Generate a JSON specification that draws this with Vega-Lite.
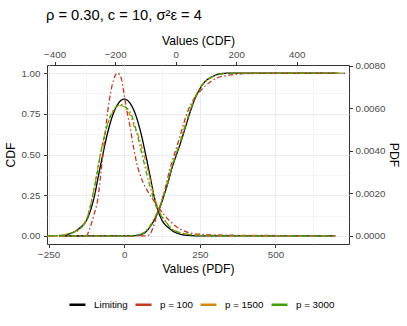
{
  "$schema": "https://vega.github.io/schema/vega-lite/v6.json",
  "width": 302,
  "height": 179,
  "autosize": {"type": "none"},
  "padding": {"left": 47, "top": 65, "right": 58, "bottom": 82},
  "title": {"text": "ρ = 0.30, c = 10, σ²ε = 4", "anchor": "start", "frame": "group", "fontSize": 14.7, "fontWeight": "normal", "color": "#000000", "offset": 12, "dx": -1},
  "datasets": {
    "pdf": [
      {"s": "Limiting", "x": -214, "y": 0.00001},
      {"s": "Limiting", "x": -180, "y": 0.0000995},
      {"s": "Limiting", "x": -152, "y": 0.000314},
      {"s": "Limiting", "x": -118, "y": 0.000941},
      {"s": "Limiting", "x": -98, "y": 0.001905},
      {"s": "Limiting", "x": -85, "y": 0.002846},
      {"s": "Limiting", "x": -71, "y": 0.00381},
      {"s": "Limiting", "x": -56, "y": 0.004781},
      {"s": "Limiting", "x": -36, "y": 0.005753},
      {"s": "Limiting", "x": -18, "y": 0.006258},
      {"s": "Limiting", "x": -9, "y": 0.006388},
      {"s": "Limiting", "x": 0, "y": 0.006434},
      {"s": "Limiting", "x": 9, "y": 0.006388},
      {"s": "Limiting", "x": 18, "y": 0.006258},
      {"s": "Limiting", "x": 36, "y": 0.005753},
      {"s": "Limiting", "x": 56, "y": 0.004781},
      {"s": "Limiting", "x": 71, "y": 0.00381},
      {"s": "Limiting", "x": 85, "y": 0.002846},
      {"s": "Limiting", "x": 98, "y": 0.001905},
      {"s": "Limiting", "x": 118, "y": 0.000941},
      {"s": "Limiting", "x": 152, "y": 0.000314},
      {"s": "Limiting", "x": 180, "y": 0.0000995},
      {"s": "Limiting", "x": 210, "y": 0.000023},
      {"s": "Limiting", "x": 250, "y": 0},
      {"s": "Limiting", "x": 697, "y": 0},
      {"s": "p = 100", "x": -240, "y": 0},
      {"s": "p = 100", "x": -125, "y": 0},
      {"s": "p = 100", "x": -115, "y": 0.000306},
      {"s": "p = 100", "x": -100, "y": 0.000995},
      {"s": "p = 100", "x": -87, "y": 0.00176},
      {"s": "p = 100", "x": -75, "y": 0.003213},
      {"s": "p = 100", "x": -65, "y": 0.004514},
      {"s": "p = 100", "x": -55, "y": 0.005814},
      {"s": "p = 100", "x": -45, "y": 0.006732},
      {"s": "p = 100", "x": -35, "y": 0.007344},
      {"s": "p = 100", "x": -22, "y": 0.00765},
      {"s": "p = 100", "x": -10, "y": 0.00742},
      {"s": "p = 100", "x": -3, "y": 0.006885},
      {"s": "p = 100", "x": 8, "y": 0.005936},
      {"s": "p = 100", "x": 19, "y": 0.005156},
      {"s": "p = 100", "x": 30, "y": 0.004215},
      {"s": "p = 100", "x": 41, "y": 0.003435},
      {"s": "p = 100", "x": 58, "y": 0.002655},
      {"s": "p = 100", "x": 80, "y": 0.002035},
      {"s": "p = 100", "x": 102, "y": 0.001561},
      {"s": "p = 100", "x": 135, "y": 0.000941},
      {"s": "p = 100", "x": 169, "y": 0.000467},
      {"s": "p = 100", "x": 213, "y": 0.000153},
      {"s": "p = 100", "x": 250, "y": 0.0000765},
      {"s": "p = 100", "x": 300, "y": 0.0000459},
      {"s": "p = 100", "x": 400, "y": 0.000023},
      {"s": "p = 100", "x": 500, "y": 0.0000153},
      {"s": "p = 100", "x": 560, "y": 0.0000077},
      {"s": "p = 1500", "x": -240, "y": 0},
      {"s": "p = 1500", "x": -200, "y": 0.0000459},
      {"s": "p = 1500", "x": -170, "y": 0.000168},
      {"s": "p = 1500", "x": -147, "y": 0.000344},
      {"s": "p = 1500", "x": -120, "y": 0.000995},
      {"s": "p = 1500", "x": -104, "y": 0.001913},
      {"s": "p = 1500", "x": -91, "y": 0.002907},
      {"s": "p = 1500", "x": -79, "y": 0.003825},
      {"s": "p = 1500", "x": -64, "y": 0.00482},
      {"s": "p = 1500", "x": -44, "y": 0.005661},
      {"s": "p = 1500", "x": -25, "y": 0.006044},
      {"s": "p = 1500", "x": -9, "y": 0.00612},
      {"s": "p = 1500", "x": 5, "y": 0.005967},
      {"s": "p = 1500", "x": 20, "y": 0.005661},
      {"s": "p = 1500", "x": 35, "y": 0.005049},
      {"s": "p = 1500", "x": 50, "y": 0.00459},
      {"s": "p = 1500", "x": 62, "y": 0.003978},
      {"s": "p = 1500", "x": 72, "y": 0.003443},
      {"s": "p = 1500", "x": 84, "y": 0.002754},
      {"s": "p = 1500", "x": 98, "y": 0.001913},
      {"s": "p = 1500", "x": 112, "y": 0.001301},
      {"s": "p = 1500", "x": 125, "y": 0.000918},
      {"s": "p = 1500", "x": 142, "y": 0.000574},
      {"s": "p = 1500", "x": 160, "y": 0.000306},
      {"s": "p = 1500", "x": 185, "y": 0.000153},
      {"s": "p = 1500", "x": 213, "y": 0.0000765},
      {"s": "p = 1500", "x": 260, "y": 0.000023},
      {"s": "p = 1500", "x": 300, "y": 0},
      {"s": "p = 1500", "x": 700, "y": 0},
      {"s": "p = 3000", "x": -255, "y": 0},
      {"s": "p = 3000", "x": -200, "y": 0.0000383},
      {"s": "p = 3000", "x": -170, "y": 0.000153},
      {"s": "p = 3000", "x": -147, "y": 0.000314},
      {"s": "p = 3000", "x": -120, "y": 0.000941},
      {"s": "p = 3000", "x": -104, "y": 0.001905},
      {"s": "p = 3000", "x": -91, "y": 0.002846},
      {"s": "p = 3000", "x": -79, "y": 0.00381},
      {"s": "p = 3000", "x": -64, "y": 0.004781},
      {"s": "p = 3000", "x": -42, "y": 0.005753},
      {"s": "p = 3000", "x": -25, "y": 0.006082},
      {"s": "p = 3000", "x": -9, "y": 0.006174},
      {"s": "p = 3000", "x": 5, "y": 0.006044},
      {"s": "p = 3000", "x": 22, "y": 0.005753},
      {"s": "p = 3000", "x": 41, "y": 0.004896},
      {"s": "p = 3000", "x": 55, "y": 0.004055},
      {"s": "p = 3000", "x": 68, "y": 0.00329},
      {"s": "p = 3000", "x": 80, "y": 0.002601},
      {"s": "p = 3000", "x": 95, "y": 0.001836},
      {"s": "p = 3000", "x": 110, "y": 0.001224},
      {"s": "p = 3000", "x": 122, "y": 0.000941},
      {"s": "p = 3000", "x": 140, "y": 0.000612},
      {"s": "p = 3000", "x": 157, "y": 0.000314},
      {"s": "p = 3000", "x": 185, "y": 0.000153},
      {"s": "p = 3000", "x": 213, "y": 0.0000612},
      {"s": "p = 3000", "x": 260, "y": 0.0000153},
      {"s": "p = 3000", "x": 300, "y": 0},
      {"s": "p = 3000", "x": 700, "y": 0}
    ],
    "cdf": [
      {"s": "Limiting", "x": -384, "y": 0},
      {"s": "Limiting", "x": -200, "y": 0},
      {"s": "Limiting", "x": -150, "y": 0.0005},
      {"s": "Limiting", "x": -123, "y": 0.004},
      {"s": "Limiting", "x": -100, "y": 0.022},
      {"s": "Limiting", "x": -85, "y": 0.055},
      {"s": "Limiting", "x": -70, "y": 0.1},
      {"s": "Limiting", "x": -55, "y": 0.16},
      {"s": "Limiting", "x": -40, "y": 0.24},
      {"s": "Limiting", "x": -25, "y": 0.33},
      {"s": "Limiting", "x": -10, "y": 0.43},
      {"s": "Limiting", "x": 3, "y": 0.5},
      {"s": "Limiting", "x": 16, "y": 0.57},
      {"s": "Limiting", "x": 31, "y": 0.66},
      {"s": "Limiting", "x": 46, "y": 0.75},
      {"s": "Limiting", "x": 61, "y": 0.83},
      {"s": "Limiting", "x": 76, "y": 0.89},
      {"s": "Limiting", "x": 91, "y": 0.935},
      {"s": "Limiting", "x": 106, "y": 0.962},
      {"s": "Limiting", "x": 121, "y": 0.978},
      {"s": "Limiting", "x": 136, "y": 0.991},
      {"s": "Limiting", "x": 151, "y": 0.997},
      {"s": "Limiting", "x": 170, "y": 0.9995},
      {"s": "Limiting", "x": 200, "y": 1},
      {"s": "Limiting", "x": 527, "y": 1},
      {"s": "p = 100", "x": -420, "y": 0},
      {"s": "p = 100", "x": -95, "y": 0},
      {"s": "p = 100", "x": -85, "y": 0.01},
      {"s": "p = 100", "x": -75, "y": 0.05},
      {"s": "p = 100", "x": -65, "y": 0.11},
      {"s": "p = 100", "x": -52, "y": 0.18},
      {"s": "p = 100", "x": -35, "y": 0.29},
      {"s": "p = 100", "x": -19, "y": 0.41},
      {"s": "p = 100", "x": -1, "y": 0.52},
      {"s": "p = 100", "x": 14, "y": 0.61},
      {"s": "p = 100", "x": 28, "y": 0.7},
      {"s": "p = 100", "x": 42, "y": 0.775},
      {"s": "p = 100", "x": 60, "y": 0.84},
      {"s": "p = 100", "x": 86, "y": 0.9},
      {"s": "p = 100", "x": 110, "y": 0.94},
      {"s": "p = 100", "x": 136, "y": 0.97},
      {"s": "p = 100", "x": 170, "y": 0.985},
      {"s": "p = 100", "x": 213, "y": 0.995},
      {"s": "p = 100", "x": 260, "y": 0.998},
      {"s": "p = 100", "x": 300, "y": 1},
      {"s": "p = 100", "x": 560, "y": 1},
      {"s": "p = 1500", "x": -420, "y": 0},
      {"s": "p = 1500", "x": -150, "y": 0.001},
      {"s": "p = 1500", "x": -123, "y": 0.007},
      {"s": "p = 1500", "x": -100, "y": 0.028},
      {"s": "p = 1500", "x": -85, "y": 0.06},
      {"s": "p = 1500", "x": -70, "y": 0.11},
      {"s": "p = 1500", "x": -55, "y": 0.17},
      {"s": "p = 1500", "x": -40, "y": 0.25},
      {"s": "p = 1500", "x": -25, "y": 0.345},
      {"s": "p = 1500", "x": -10, "y": 0.445},
      {"s": "p = 1500", "x": 3, "y": 0.515},
      {"s": "p = 1500", "x": 16, "y": 0.59},
      {"s": "p = 1500", "x": 31, "y": 0.68},
      {"s": "p = 1500", "x": 46, "y": 0.765},
      {"s": "p = 1500", "x": 61, "y": 0.84},
      {"s": "p = 1500", "x": 76, "y": 0.895},
      {"s": "p = 1500", "x": 91, "y": 0.935},
      {"s": "p = 1500", "x": 106, "y": 0.96},
      {"s": "p = 1500", "x": 121, "y": 0.976},
      {"s": "p = 1500", "x": 136, "y": 0.988},
      {"s": "p = 1500", "x": 151, "y": 0.995},
      {"s": "p = 1500", "x": 180, "y": 0.999},
      {"s": "p = 1500", "x": 220, "y": 1},
      {"s": "p = 1500", "x": 540, "y": 1},
      {"s": "p = 3000", "x": -420, "y": 0},
      {"s": "p = 3000", "x": -150, "y": 0.001},
      {"s": "p = 3000", "x": -123, "y": 0.006},
      {"s": "p = 3000", "x": -100, "y": 0.025},
      {"s": "p = 3000", "x": -85, "y": 0.058},
      {"s": "p = 3000", "x": -70, "y": 0.105},
      {"s": "p = 3000", "x": -55, "y": 0.165},
      {"s": "p = 3000", "x": -40, "y": 0.245},
      {"s": "p = 3000", "x": -25, "y": 0.335},
      {"s": "p = 3000", "x": -10, "y": 0.435},
      {"s": "p = 3000", "x": 3, "y": 0.505},
      {"s": "p = 3000", "x": 16, "y": 0.575},
      {"s": "p = 3000", "x": 31, "y": 0.665},
      {"s": "p = 3000", "x": 46, "y": 0.755},
      {"s": "p = 3000", "x": 61, "y": 0.835},
      {"s": "p = 3000", "x": 76, "y": 0.893},
      {"s": "p = 3000", "x": 91, "y": 0.935},
      {"s": "p = 3000", "x": 106, "y": 0.962},
      {"s": "p = 3000", "x": 121, "y": 0.978},
      {"s": "p = 3000", "x": 136, "y": 0.99},
      {"s": "p = 3000", "x": 151, "y": 0.996},
      {"s": "p = 3000", "x": 180, "y": 0.999},
      {"s": "p = 3000", "x": 220, "y": 1},
      {"s": "p = 3000", "x": 561, "y": 1}
    ]
  },
  "layer": [
    {
      "data": {"name": "pdf"},
      "mark": {"type": "line", "interpolate": "monotone", "strokeWidth": 1.3, "clip": true},
      "encoding": {
        "x": {"field": "x", "type": "quantitative", "scale": {"domain": [-255.3, 743], "nice": false, "zero": false},
          "axis": {"orient": "bottom", "title": "Values (PDF)", "values": [-250, -125, 0, 125, 250, 375, 500, 625],
            "labelExpr": "datum.value % 250 === 0 ? format(datum.value, 'd') : ''",
            "tickOpacity": {"condition": {"test": "datum.value % 250 === 0", "value": 1}, "value": 0},
            "gridWidth": {"condition": {"test": "datum.value % 250 === 0", "value": 1}, "value": 0.5},
            "grid": true, "labelPadding": 2, "titlePadding": 3}},
        "y": {"field": "y", "type": "quantitative", "scale": {"domain": [-0.0003825, 0.0080325], "nice": false, "zero": false},
          "axis": {"orient": "right", "title": "PDF", "values": [0, 0.002, 0.004, 0.006, 0.008], "format": ".4f", "grid": false, "labelPadding": 2.5, "titlePadding": 2}},
        "color": {"field": "s", "type": "nominal", "scale": {"domain": ["Limiting", "p = 100", "p = 1500", "p = 3000"], "range": ["#000000", "#C1391F", "#D6870F", "#3FA00A"]}, "legend": {"title": null}},
        "strokeDash": {"condition": {"test": "datum.s === 'Limiting'", "value": [1, 0]}, "value": [5, 2.5, 1.5, 2.5]}
      }
    },
    {
      "data": {"name": "cdf"},
      "mark": {"type": "line", "interpolate": "monotone", "strokeWidth": 1.3, "clip": true},
      "encoding": {
        "x": {"field": "x", "type": "quantitative", "scale": {"domain": [-425.3, 573], "nice": false, "zero": false},
          "axis": {"orient": "top", "title": "Values (CDF)", "values": [-400, -200, 0, 200, 400], "grid": false, "labelPadding": 2, "titlePadding": 2}},
        "y": {"field": "y", "type": "quantitative", "scale": {"domain": [-0.05, 1.05], "nice": false, "zero": false},
          "axis": {"orient": "left", "title": "CDF", "values": [0, 0.125, 0.25, 0.375, 0.5, 0.625, 0.75, 0.875, 1],
            "labelExpr": "(datum.value * 4) % 1 === 0 ? format(datum.value, '.2f') : ''",
            "tickOpacity": {"condition": {"test": "(datum.value * 4) % 1 === 0", "value": 1}, "value": 0},
            "gridWidth": {"condition": {"test": "(datum.value * 4) % 1 === 0", "value": 1}, "value": 0.5},
            "grid": true, "labelPadding": 3.5, "titlePadding": 3}},
        "color": {"field": "s", "type": "nominal"},
        "strokeDash": {"condition": {"test": "datum.s === 'Limiting'", "value": [1, 0]}, "value": [5, 2.5, 1.5, 2.5]}
      }
    }
  ],
  "resolve": {"scale": {"x": "independent", "y": "independent"}},
  "config": {
    "font": "Liberation Sans",
    "view": {"stroke": "#333333", "strokeWidth": 1},
    "axis": {"domain": false, "labelFontSize": 9.8, "labelColor": "#4D4D4D", "titleFontSize": 12.2, "titleFontWeight": "normal", "titleColor": "#000000", "tickColor": "#333333", "tickSize": 3.5, "tickWidth": 1, "gridColor": "#EBEBEB"},
    "legend": {"orient": "none", "legendX": 21, "legendY": 230, "direction": "horizontal", "symbolType": "stroke", "symbolSize": 256, "symbolStrokeWidth": 2.5, "symbolDash": [1, 0], "labelFontSize": 9.8, "labelColor": "#000000", "labelOffset": 7, "columnPadding": 2, "padding": 0}
  }
}
